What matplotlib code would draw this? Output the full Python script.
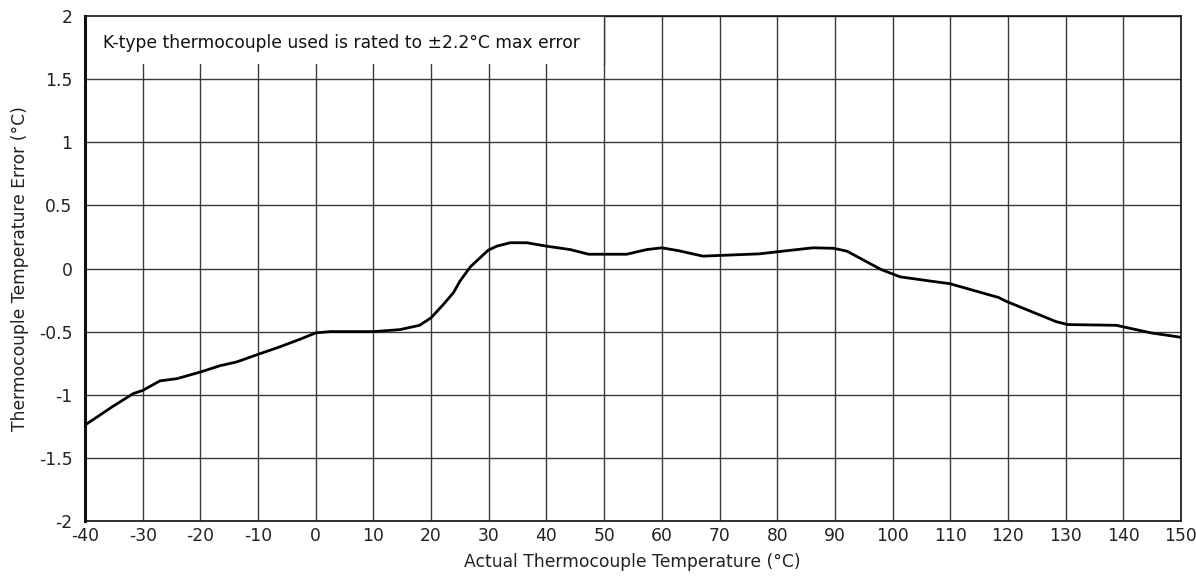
import matplotlib
matplotlib.use("Agg")
import matplotlib.pyplot as plt
from matplotlib.patches import Rectangle

temp_c = [-40, -35.1, -31.6, -30, -27, -24.1, -20, -16.6, -13.7, -10, -6.2, -2.7, 0,
          2.5, 10, 14.6, 18, 20, 22.1, 23.9, 25, 26.8, 29.9, 31.4, 33.7, 36.6, 40,
          44.1, 47.3, 53.9, 57.4, 60, 63, 67.1, 76.9, 80.9, 86.2, 89.8, 92.1, 98.0,
          101.3, 106.6, 109.9, 118.4, 119.7, 128.3, 130.3, 138.8, 144.8, 150]
error_c = [-1.24, -1.09, -0.99, -0.966, -0.89, -0.873, -0.82, -0.77, -0.74, -0.68, -0.62, -0.56, -0.51,
           -0.50, -0.50, -0.484, -0.45, -0.39, -0.286, -0.19, -0.10, 0.013, 0.145, 0.177, 0.204, 0.204, 0.177,
           0.15, 0.113, 0.113, 0.15, 0.164, 0.14, 0.098, 0.116, 0.137, 0.164, 0.16, 0.137, -0.008,
           -0.066, -0.10, -0.12, -0.23, -0.26, -0.42, -0.444, -0.45, -0.51, -0.545]

x_ticks = list(range(-40, 151, 10))
y_ticks = [-2, -1.5, -1, -0.5, 0, 0.5, 1, 1.5, 2]
y_tick_labels = ["-2", "-1.5", "-1", "-0.5", "0", "0.5", "1", "1.5", "2"]

plt.rcParams['font.family'] = ['DejaVu Sans']

FS = 12.3
fig = plt.figure(figsize=(11.96, 5.82), dpi=100)
ax = fig.add_axes([85/1196, 1 - 521/582, (1181 - 85)/1196, (521 - 16)/582])

ax.set_xlim(-40, 150)
ax.set_ylim(-2, 2)
ax.set_xticks(x_ticks)
ax.set_xticklabels([str(t) for t in x_ticks])
ax.set_yticks(y_ticks)
ax.set_yticklabels(y_tick_labels)
ax.tick_params(axis='both', length=0, labelsize=FS, colors='#222222')
ax.tick_params(axis='y', pad=9)
ax.tick_params(axis='x', pad=4)
ax.grid(True, color='#3a3a3a', linewidth=1.0)
ax.set_axisbelow(True)

ax.plot(temp_c, error_c, color='black', linewidth=2.0, zorder=4)

ax.add_patch(Rectangle((-40, 1.62), 90, 0.38, facecolor='white', edgecolor='none', zorder=2))
ax.plot([50, 50], [1.62, 2], color='#3a3a3a', linewidth=1.0, zorder=3)
ax.text(-36.9, 1.79, "K-type thermocouple used is rated to \u00b12.2\u00b0C max error",
        fontsize=FS, va='center', ha='left', color='#111111', zorder=5)

for s in ax.spines.values():
    s.set_color('#111111')
    s.set_linewidth(1.2)
ax.spines['left'].set_linewidth(2.2)

ax.set_xlabel("Actual Thermocouple Temperature (\u00b0C)", fontsize=FS, color='#222222')
ax.set_ylabel("Thermocouple Temperature Error (\u00b0C)", fontsize=FS, color='#222222')
ax.xaxis.set_label_coords(0.499, -0.081)
ax.yaxis.set_label_coords(-0.0593, 0.5)
ax.xaxis.label.set_va('center')
ax.yaxis.label.set_va('center')

fig.savefig("out.png", dpi=100)
